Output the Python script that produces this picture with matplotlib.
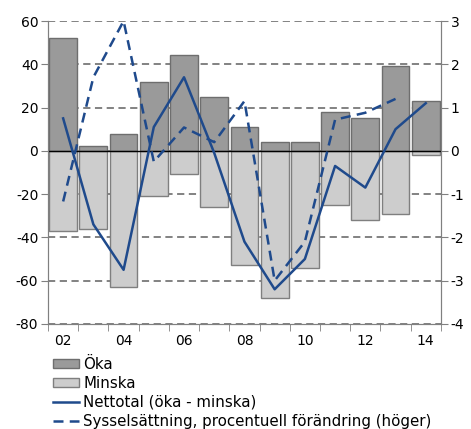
import matplotlib
matplotlib.use("Agg")
import matplotlib.pyplot as plt
import numpy as np
from matplotlib.patches import Patch
from matplotlib.lines import Line2D

years = ["02", "03", "04", "05", "06", "07", "08", "09", "10", "11", "12", "13", "14"]
oka = [52, 2, 8, 32, 44.5, 25, 11, 4, 4, 18, 15, 39, 23]
minska = [-37, -36, -63, -21, -10.5, -26, -53, -68, -54, -25, -32, -29, -2]
netto = [15, -34, -55, 11, 34, -1, -42, -64, -50, -7, -17, 10, 22]
syss = [-1.17, 1.7, 3.0, -0.25, 0.54, 0.2, 1.15, -3.0, -2.1, 0.72, 0.88, 1.2, np.nan]

plt.rcParams['font.family'] = ['DejaVu Sans']
plt.rcParams['axes.unicode_minus'] = False
fig = plt.figure(figsize=(4.71, 4.29), dpi=100)
ax = fig.add_axes([0.102, 0.245, 0.834, 0.706])
x = np.arange(len(years))

dark = "#9a9a9a"; dark_e = "#6e6e6e"
light = "#cdcdcd"; light_e = "#7f7f7f"
blue = "#1f4a8c"

ax.bar(x, oka, width=0.92, color=dark, edgecolor=dark_e, linewidth=1.0, zorder=2)
ax.bar(x, minska, width=0.92, color=light, edgecolor=light_e, linewidth=1.0, zorder=2)
ax.axhline(0, color="black", lw=1.0, zorder=3)
ax.plot(x, netto, color=blue, lw=1.8, zorder=4)

ax2 = ax.twinx()
ax2.plot(x, syss, color=blue, lw=1.8, linestyle=(0, (4, 2.5)), zorder=4)
ax2.set_ylim(-4, 3)
ax2.set_yticks(range(-4, 4))

ax.set_ylim(-80, 60)
ax.set_yticks(range(-80, 61, 20))
ax.set_xlim(-0.5, len(years) - 0.5)
ax.yaxis.grid(True, color="#787878", linestyle=(0, (4, 2.5)), lw=1.3, zorder=0)
ax.set_axisbelow(True)

ax.set_xticks(x[::2])
ax.set_xticklabels(years[::2])
ax.set_xticks(np.arange(-0.5, len(years), 1), minor=True)
ax.tick_params(axis='x', which='major', length=0, labelsize=10, pad=7)
ax.tick_params(axis='x', which='minor', length=5, color="#808080")
ax.tick_params(axis='y', labelsize=10, length=5, color="#808080", pad=2)
ax2.tick_params(axis='y', labelsize=10, length=5, color="#808080", pad=2)

for a in (ax, ax2):
    a.spines['top'].set_visible(False)
    for s in ('left', 'right', 'bottom'):
        a.spines[s].set_color("#808080")

ax.set_zorder(ax2.get_zorder() - 1)
ax.patch.set_visible(True)
ax2.patch.set_visible(False)

handles = [
    Patch(facecolor=dark, edgecolor=dark_e, label="Öka"),
    Patch(facecolor=light, edgecolor=light_e, label="Minska"),
    Line2D([], [], color=blue, lw=1.8, label="Nettotal (öka - minska)"),
    Line2D([], [], color=blue, lw=1.8, linestyle=(0, (4, 2.5)),
           label="Sysselsättning, procentuell förändring (höger)"),
]
fig.legend(handles=handles, loc="upper left", bbox_to_anchor=(0.113, 0.168),
           frameon=False, fontsize=10.8, handlelength=1.7, handleheight=0.6,
           handletextpad=0.3, labelspacing=0.26, borderaxespad=0, borderpad=0)

fig.savefig("out.png", dpi=100)
